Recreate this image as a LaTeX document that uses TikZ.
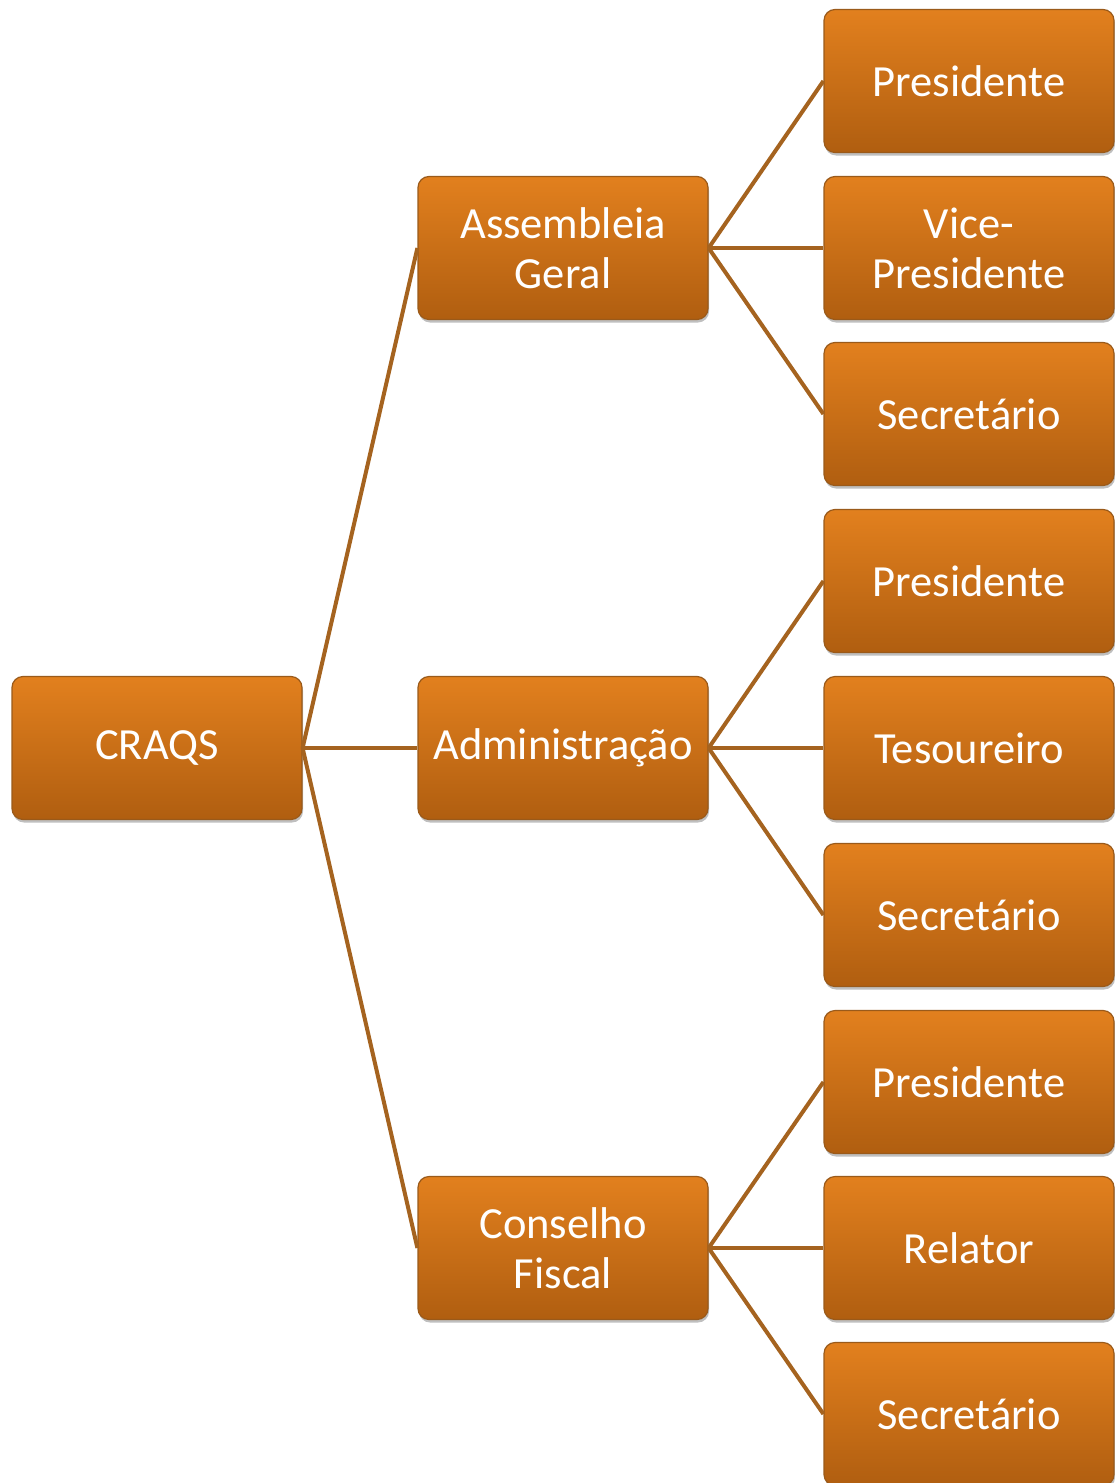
\documentclass[tikz,border=0pt]{standalone}
\usepackage{fontspec}
\setmainfont{Carlito}
\usetikzlibrary{shadows}
\definecolor{boxtop}{HTML}{E2801E}
\definecolor{boxbot}{HTML}{B05E10}
\definecolor{boxline}{HTML}{9A5A1A}
\definecolor{conn}{HTML}{A5631F}
\tikzset{
  orgbox/.style={rectangle, rounded corners=11pt, draw=boxline, line width=1.2pt,
    top color=boxtop, bottom color=boxbot, minimum width=290pt, minimum height=143pt,
    inner sep=0pt, align=center, text=white,
    font=\fontsize{44.5}{50}\selectfont,
    drop shadow={shadow xshift=1pt, shadow yshift=-3pt, fill=black, opacity=0.25}},
  link/.style={draw=conn, line width=4pt}
}
\begin{document}
\begin{tikzpicture}[x=1pt,y=-1pt]
\useasboundingbox (0,0) rectangle (1114,1483);
\node[orgbox] (craqs) at (157,748) {CRAQS};
\node[orgbox] (ag) at (563,248) {Assembleia\\Geral};
\node[orgbox] (adm) at (563,748) {Administração};
\node[orgbox] (cf) at (563,1248) {Conselho\\Fiscal};
\node[orgbox] (p1) at (969,81) {Presidente};
\node[orgbox] (v1) at (969,248) {Vice-\\Presidente};
\node[orgbox] (s1) at (969,414) {Secretário};
\node[orgbox] (p2) at (969,581) {Presidente};
\node[orgbox] (t2) at (969,748) {Tesoureiro};
\node[orgbox] (s2) at (969,915) {Secretário};
\node[orgbox] (p3) at (969,1082) {Presidente};
\node[orgbox] (r3) at (969,1248) {Relator};
\node[orgbox] (s3) at (969,1414) {Secretário};
\foreach \c in {ag,adm,cf} \draw[link] (craqs.east) -- (\c.west);
\foreach \c in {p1,v1,s1} \draw[link] (ag.east) -- (\c.west);
\foreach \c in {p2,t2,s2} \draw[link] (adm.east) -- (\c.west);
\foreach \c in {p3,r3,s3} \draw[link] (cf.east) -- (\c.west);
\end{tikzpicture}
\end{document}
